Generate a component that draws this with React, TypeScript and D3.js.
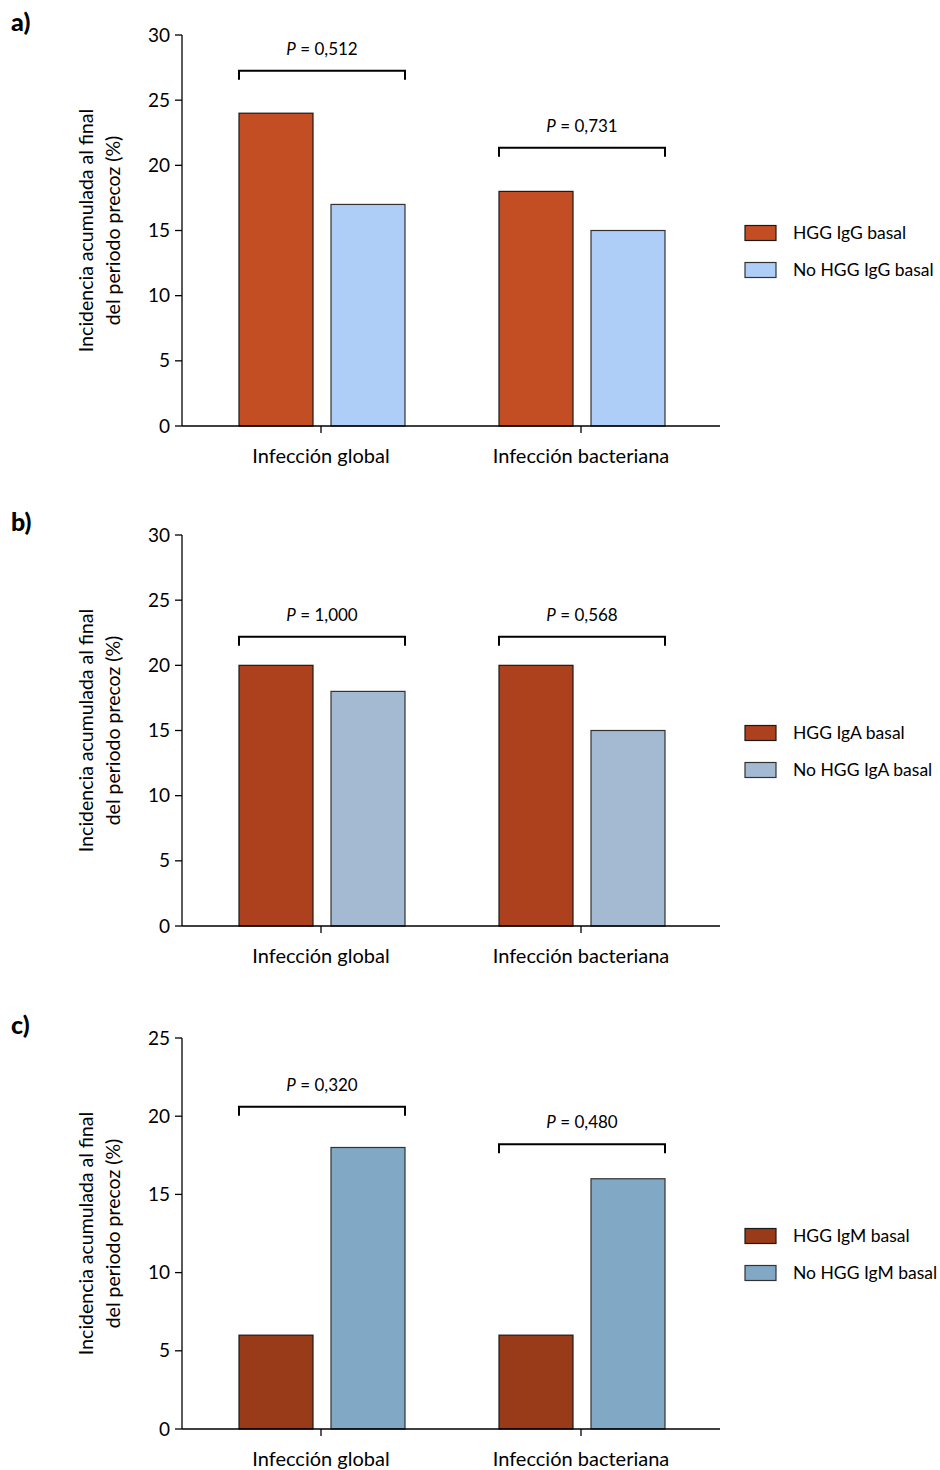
import React from "react";
import * as d3 from "d3";

const categories = ["Infección global", "Infección bacteriana"];
const panelLabels = ["a)", "b)", "c)"];
const seriesNames = [
  ["HGG IgG basal", "No HGG IgG basal"],
  ["HGG IgA basal", "No HGG IgA basal"],
  ["HGG IgM basal", "No HGG IgM basal"],
];
const hggValues = [
  [24, 18],
  [20, 20],
  [6, 6],
];
const noHggValues = [
  [17, 15],
  [18, 15],
  [18, 16],
];
const yMax = [30, 30, 25];
const pValues = [
  ["0,512", "0,731"],
  ["1,000", "0,568"],
  ["0,320", "0,480"],
];
const bracketLevels = [
  [27.25, 21.35],
  [22.2, 22.2],
  [20.6, 18.2],
];
const colorsHgg = ["#C44E24", "#AD401D", "#993A18"];
const colorsNo = ["#AECEF8", "#A4B9D2", "#81A9C5"];

const FONT = "Lato, 'Open Sans', sans-serif";

function Panel({ idx, top }: { idx: number; top: number }) {
  const x0 = 182;
  const x1 = 720;
  const yTop = top + 35;
  const yBottom = top + 426;
  const y = d3.scaleLinear().domain([0, yMax[idx]]).range([yBottom, yTop]);
  const ticks = d3.range(0, yMax[idx] + 1, 5);
  const xb = d3.scaleBand<string>().domain(categories).range([191, 711]).padding(0);
  const inner = d3.scaleBand<number>().domain([0, 1]).range([-82, 84]).paddingInner(18 / 92).paddingOuter(0);
  const vals = [hggValues[idx], noHggValues[idx]];
  const cols = [colorsHgg[idx], colorsNo[idx]];
  const strokes = ["#1a1a1a", "#333"];
  return (
    <g>
      <text x={11} y={top + 31} fontFamily={FONT} fontWeight="900" fontSize={25} fill="#000">
        {panelLabels[idx]}
      </text>
      {/* y axis */}
      <line x1={x0} x2={x0} y1={yTop} y2={yBottom} stroke="#000" strokeWidth={1.3} />
      {ticks.map((t) => (
        <g key={t}>
          <line x1={x0 - 7} x2={x0} y1={y(t)} y2={y(t)} stroke="#000" strokeWidth={1.3} />
          <text x={x0 - 12} y={y(t)} dy="0.35em" textAnchor="end" fontFamily={FONT} fontSize={19} fill="#000">
            {t}
          </text>
        </g>
      ))}
      <text
        transform={`translate(${93},${(yTop + yBottom) / 2}) rotate(-90)`}
        textAnchor="middle"
        fontFamily={FONT}
        fontSize={19.5}
        fill="#000"
      >
        <tspan x={0} dy={0}>Incidencia acumulada al final</tspan>
        <tspan x={0} dy={27}>del periodo precoz (%)</tspan>
      </text>
      {/* bars */}
      {categories.map((c, ci) => {
        const cx = (xb(c) as number) + xb.bandwidth() / 2;
        return (
          <g key={c}>
            {[0, 1].map((s) => (
              <rect
                key={s}
                x={cx + (inner(s) as number)}
                y={y(vals[s][ci])}
                width={inner.bandwidth()}
                height={yBottom - y(vals[s][ci])}
                fill={cols[s]}
                stroke={strokes[s]}
                strokeWidth={1.2}
              />
            ))}
            {(() => {
              const bx1 = cx + (inner(0) as number);
              const bx2 = cx + (inner(1) as number) + inner.bandwidth();
              const by = y(bracketLevels[idx][ci]);
              return (
                <g>
                  <path
                    d={`M${bx1},${by + 9}V${by}H${bx2}V${by + 9}`}
                    fill="none"
                    stroke="#000"
                    strokeWidth={2}
                  />
                  <text x={(bx1 + bx2) / 2} y={by - 22} dy="0.35em" textAnchor="middle" fontFamily={FONT} fontSize={17} fill="#000">
                    <tspan fontStyle="italic">P</tspan>
                    {` = ${pValues[idx][ci]}`}
                  </text>
                </g>
              );
            })()}
            <line x1={cx} x2={cx} y1={yBottom} y2={yBottom + 7} stroke="#000" strokeWidth={1.3} />
            <text x={cx} y={yBottom + 30} dy="0.35em" textAnchor="middle" fontFamily={FONT} fontSize={20} fill="#000">
              {c}
            </text>
          </g>
        );
      })}
      <line x1={x0} x2={x1} y1={yBottom} y2={yBottom} stroke="#000" strokeWidth={1.3} />
      {/* legend */}
      {[0, 1].map((s) => {
        const ly = top + 233 + s * 37;
        return (
          <g key={s}>
            <rect x={745} y={ly - 7.5} width={31} height={15} fill={cols[s]} stroke={strokes[s]} strokeWidth={1.2} />
            <text x={793} y={ly} dy="0.35em" fontFamily={FONT} fontSize={17.5} fill="#000">
              {seriesNames[idx][s]}
            </text>
          </g>
        );
      })}
    </g>
  );
}

export default function App() {
  const tops = [0, 500, 1003];
  return (
    <svg width={940} height={1470} style={{ position: "absolute", left: 0, top: 0, background: "#fff" }}>
      <rect width={940} height={1470} fill="#fff" />
      {tops.map((t, i) => (
        <Panel key={i} idx={i} top={t} />
      ))}
    </svg>
  );
}
